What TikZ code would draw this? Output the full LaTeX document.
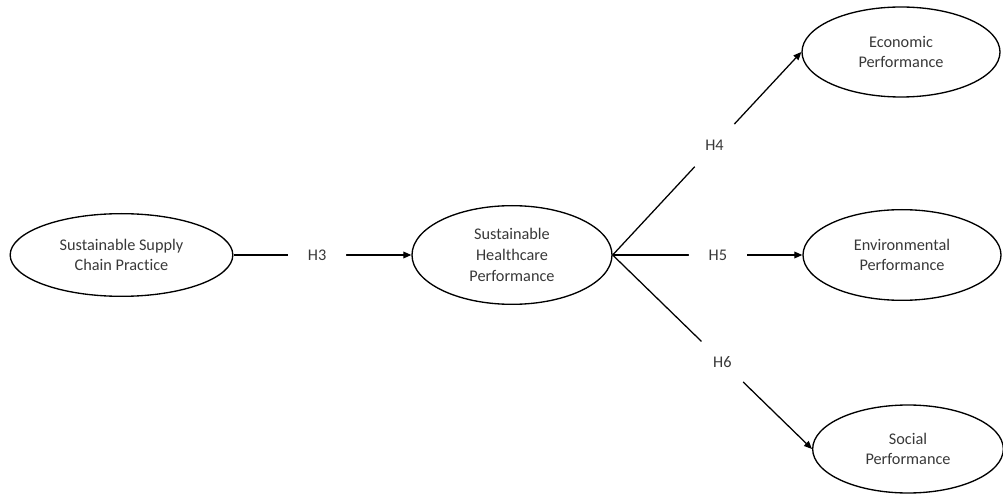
\documentclass[tikz,border=0pt]{standalone}
\usepackage{fontspec}
\setmainfont{Carlito}[Ligatures=NoCommon]
\usetikzlibrary{shapes.geometric,arrows.meta}

\begin{document}
\begin{tikzpicture}[
  x=0.75pt, y=-0.75pt,
  construct/.style={ellipse, draw=black, line width=1pt, inner sep=0pt,
    align=center, text=black!78, font=\fontsize{12.2}{15.5}\selectfont},
  path/.style={draw=black, line width=0.95pt,
    -{Triangle[length=6pt,width=5pt]}},
  hyp/.style={circle, fill=white, inner sep=0pt, minimum size=43.5pt,
    text=black!78, font=\fontsize{12.2}{14}\selectfont}
]
\useasboundingbox (0,0) rectangle (1003,495);

% constructs
\node[construct, minimum width=167pt, minimum height=62pt] (ssc) at (121.5,255)
  {Sustainable Supply\\Chain Practice};
\node[construct, minimum width=150pt, minimum height=74pt] (shp) at (512,255)
  {Sustainable\\Healthcare\\Performance};
\node[construct, minimum width=148.5pt, minimum height=67.5pt] (eco) at (901,52)
  {Economic\\Performance};
\node[construct, minimum width=148.5pt, minimum height=68pt] (env) at (902,255)
  {Environmental\\Performance};
\node[construct, minimum width=143pt, minimum height=66pt] (soc) at (908,449)
  {Social\\Performance};

% hypothesised paths
\draw[path] (ssc.east) -- node[hyp, pos=0.47] {H3} (shp.west);
\draw[path] (shp.east) -- node[hyp, pos=0.54] {H4} (eco.west);
\draw[path] (shp.east) -- node[hyp, pos=0.555] {H5} (env.west);
\draw[path] (shp.east) -- node[hyp, pos=0.55] {H6} (soc.west);
\end{tikzpicture}
\end{document}
